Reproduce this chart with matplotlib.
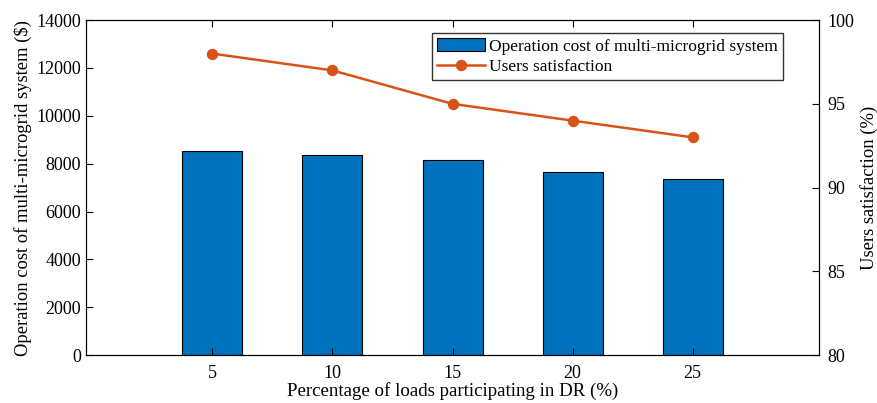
import numpy as np
import matplotlib.pyplot as plt

plt.rcParams['font.family'] = ['Liberation Serif', 'DejaVu Serif']
plt.rcParams['mathtext.fontset'] = 'stix'

dr_share = [5, 10, 15, 20, 25]
op_cost = [8510, 8370, 8160, 7660, 7380]
satisfaction = [98, 97, 95, 94, 93]

fig = plt.figure(figsize=(8.77, 4.03), dpi=100)
ax = fig.add_axes([0.0981, 0.119, 0.8358, 0.831])
ax.bar(dr_share, op_cost, width=2.5, color='#0072BD', edgecolor='black',
       linewidth=0.8, label='Operation cost of multi-microgrid system')
ax.set_xlim(-0.26, 30.26)
ax.set_ylim(0, 14000)
ax.set_xticks(dr_share)
ax.set_yticks(np.arange(0, 14001, 2000))
ax.set_xlabel('Percentage of loads participating in DR (%)', fontsize=13.6, labelpad=0.5)
ax.set_ylabel('Operation cost of multi-microgrid system ($)', fontsize=13.4, labelpad=3)
ax.tick_params(direction='in', labelsize=13, length=5, top=True)
ax.tick_params(axis='x', pad=7)

ax2 = ax.twinx()
ax2.plot(dr_share, satisfaction, color='#D95319', lw=1.8, marker='o', ms=7.2,
         label='Users satisfaction')
ax2.set_ylim(80, 100)
ax2.set_yticks([80, 85, 90, 95, 100])
ax2.set_ylabel('Users satisfaction (%)', fontsize=13.4, labelpad=4)
ax2.tick_params(direction='in', labelsize=13, length=5, pad=6)

for a in (ax, ax2):
    for s in a.spines.values():
        s.set_linewidth(0.8)

h1, l1 = ax.get_legend_handles_labels()
h2, l2 = ax2.get_legend_handles_labels()
ax2.legend(h1 + h2, l1 + l2, loc='upper right', bbox_to_anchor=(0.951, 0.961),
           fontsize=12.5, frameon=True, fancybox=False, edgecolor='#333333',
           framealpha=1, handlelength=2.76, borderpad=0.3, labelspacing=0.25,
           handletextpad=0.23, borderaxespad=0)

fig.savefig('out.png', dpi=100)
